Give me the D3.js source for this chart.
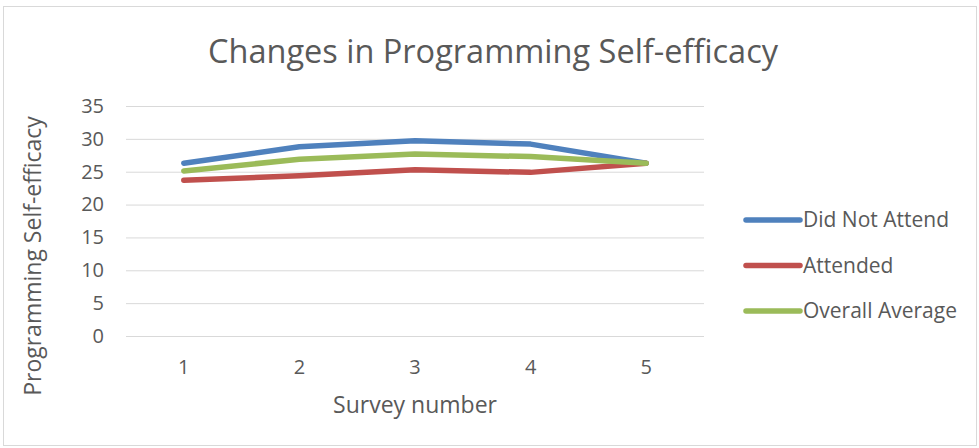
<!DOCTYPE html>
<html>
<head>
<meta charset="utf-8">
<script src="https://cdn.jsdelivr.net/npm/d3@7"></script>
<style>
  body { margin: 0; background: #fff; }
  svg text { font-family: 'Open Sans', sans-serif; fill: #595959; }
</style>
</head>
<body>
<svg id="chart" width="979" height="448"></svg>
<script>
const surveys = ['1', '2', '3', '4', '5'];
const yTicks = [0, 5, 10, 15, 20, 25, 30, 35];
const seriesNames = ['Did Not Attend', 'Attended', 'Overall Average'];
const didNotAttend = [26.3, 28.8, 29.7, 29.2, 26.3];
const attended = [23.7, 24.4, 25.3, 24.9, 26.3];
const overallAverage = [25.1, 26.9, 27.7, 27.3, 26.3];
const colors = ['#4f81bd', '#c0504d', '#9bbb59'];

const series = [didNotAttend, attended, overallAverage].map((values, i) => ({
  name: seriesNames[i],
  color: colors[i],
  values
}));

const margin = { top: 106, right: 275, bottom: 112, left: 126 },
  width = 979,
  height = 448;

const svg = d3.select('#chart');

svg
  .append('rect')
  .attr('x', 3.5)
  .attr('y', 6.5)
  .attr('width', width - 6)
  .attr('height', height - 9)
  .attr('fill', '#fff')
  .attr('stroke', '#d9d9d9');

const x = d3
  .scaleBand()
  .domain(surveys)
  .range([margin.left, width - margin.right]);

const y = d3
  .scaleLinear()
  .domain([0, 35])
  .range([height - margin.bottom, margin.top]);

// gridlines + y labels
svg
  .append('g')
  .attr('transform', `translate(${margin.left},0)`)
  .call(
    d3
      .axisLeft(y)
      .tickValues(yTicks)
      .tickSize(-(width - margin.left - margin.right))
      .tickPadding(22)
  )
  .call(g => g.select('.domain').remove())
  .call(g => g.selectAll('.tick line').attr('stroke', '#d9d9d9'))
  .call(g =>
    g
      .selectAll('.tick text')
      .attr('font-size', '20px')
      .attr('fill', '#595959')
      .attr('font-family', 'Open Sans, sans-serif')
  );

svg
  .append('g')
  .attr('transform', `translate(0,${height - margin.bottom})`)
  .call(d3.axisBottom(x).tickSize(0))
  .call(g => g.select('.domain').remove())
  .call(g =>
    g
      .selectAll('.tick text')
      .attr('dy', null)
      .attr('y', 38)
      .attr('font-size', '20px')
      .attr('fill', '#595959')
      .attr('font-family', 'Open Sans, sans-serif')
  );

const line = d3
  .line()
  .x((d, i) => x(surveys[i]) + x.bandwidth() / 2)
  .y(d => y(d));

svg
  .selectAll('.series')
  .data(series)
  .join('path')
  .attr('class', 'series')
  .attr('fill', 'none')
  .attr('stroke', d => d.color)
  .attr('stroke-width', 5.5)
  .attr('stroke-linecap', 'round')
  .attr('stroke-linejoin', 'round')
  .attr('d', d => line(d.values));

// title
svg
  .append('text')
  .attr('x', 493)
  .attr('y', 63)
  .attr('text-anchor', 'middle')
  .attr('font-size', '32.5px')
  .text('Changes in Programming Self-efficacy');

svg
  .append('text')
  .attr('transform', 'translate(41,256) rotate(-90)')
  .attr('text-anchor', 'middle')
  .attr('font-size', '23px')
  .text('Programming Self-efficacy');

svg
  .append('text')
  .attr('x', 415)
  .attr('y', 413)
  .attr('text-anchor', 'middle')
  .attr('font-size', '23px')
  .text('Survey number');

// legend
const legend = svg
  .selectAll('.legend')
  .data(series)
  .join('g')
  .attr('class', 'legend')
  .attr('transform', (d, i) => `translate(746,${220 + i * 45.5})`);

legend
  .append('line')
  .attr('x1', 0)
  .attr('x2', 54)
  .attr('stroke', d => d.color)
  .attr('stroke-width', 5.5)
  .attr('stroke-linecap', 'round');

legend
  .append('text')
  .attr('x', 57)
  .attr('dy', '0.35em')
  .attr('font-size', '21px')
  .text(d => d.name);
</script>
</body>
</html>
